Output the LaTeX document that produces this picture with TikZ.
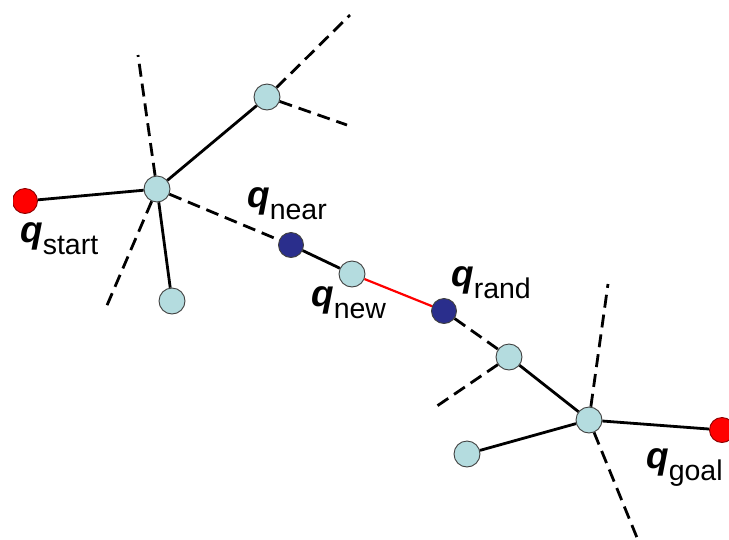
\documentclass[tikz,border=0pt]{standalone}
\usepackage{fontspec}
\setmainfont{Liberation Sans}
\definecolor{nodecyan}{RGB}{180,220,223}
\definecolor{nodeblue}{RGB}{42,46,140}
\newcommand\qsub[1]{\raisebox{-12pt}{\fontsize{28.5}{28.5}\selectfont\mdseries\upshape #1}}
\begin{document}
\begin{tikzpicture}[x=1pt,y=-1pt,
  tn/.style={circle,draw=black!75,line width=0.9pt,fill=nodecyan,minimum size=26pt,inner sep=0pt},
  bn/.style={circle,draw=black!75,line width=0.9pt,fill=nodeblue,minimum size=25pt,inner sep=0pt},
  rn/.style={circle,draw=red!55!black,line width=0.9pt,fill=red,minimum size=25pt,inner sep=0pt},
  edge/.style={line width=2.8pt},
  newedge/.style={line width=2.2pt,red},
  tentative/.style={line width=2.8pt,dash pattern=on 13pt off 7pt},
  lab/.style={anchor=base west,inner sep=0pt,font=\fontsize{37}{37}\selectfont\bfseries\itshape}]
\useasboundingbox (0,0) rectangle (729,539);
% nodes
\begin{scope}
  \clip (13,0) rectangle (729,539);
  \node[rn] (qs) at (25,201) {};
\end{scope}
\node[tn] (A) at (157,189) {};
\node[tn] (T) at (267,97) {};
\node[tn] (Bt) at (172,301) {};
\node[bn] (qnear) at (291,245) {};
\node[tn] (qnew) at (352,274) {};
\node[bn] (qrand) at (444,311) {};
\node[tn] (N) at (509,357) {};
\node[tn] (B) at (589,420) {};
\node[tn] (Bb) at (467,454) {};
\node[rn] (qg) at (722,430) {};
% free ends
\coordinate (a1) at (138,55);
\coordinate (a2) at (105,310);
\coordinate (t1) at (350,15);
\coordinate (t2) at (347,125);
\coordinate (n1) at (437,406);
\coordinate (b1) at (608,284);
\coordinate (b2) at (640,545);
% solid edges
\draw[edge] (qs) -- (A);
\draw[edge] (A) -- (T);
\draw[edge] (A) -- (Bt);
\draw[edge] (qnear) -- (qnew);
\draw[newedge] (qnew) -- (qrand);
\draw[edge] (N) -- (B);
\draw[edge] (B) -- (Bb);
\draw[edge] (B) -- (qg);
% dashed edges
\draw[tentative] (A) -- (a1);
\draw[tentative] (A) -- (a2);
\draw[tentative] (A) -- (qnear);
\draw[tentative] (T) -- (t1);
\draw[tentative] (T) -- (t2);
\draw[tentative] (qrand) -- (N);
\draw[tentative] (N) -- (n1);
\draw[tentative] (B) -- (b1);
\draw[tentative] (B) -- (b2);
% labels
\node[lab] (lstart) at (20,242) {q\qsub{start}};
\node[lab] (lnear) at (247,207) {q\qsub{near}};
\node[lab] (lnew) at (311,306) {q\qsub{new}};
\node[lab] (lrand) at (451,286) {q\qsub{rand}};
\node[lab] (lgoal) at (646,468) {q\qsub{goal}};
\end{tikzpicture}
\end{document}
